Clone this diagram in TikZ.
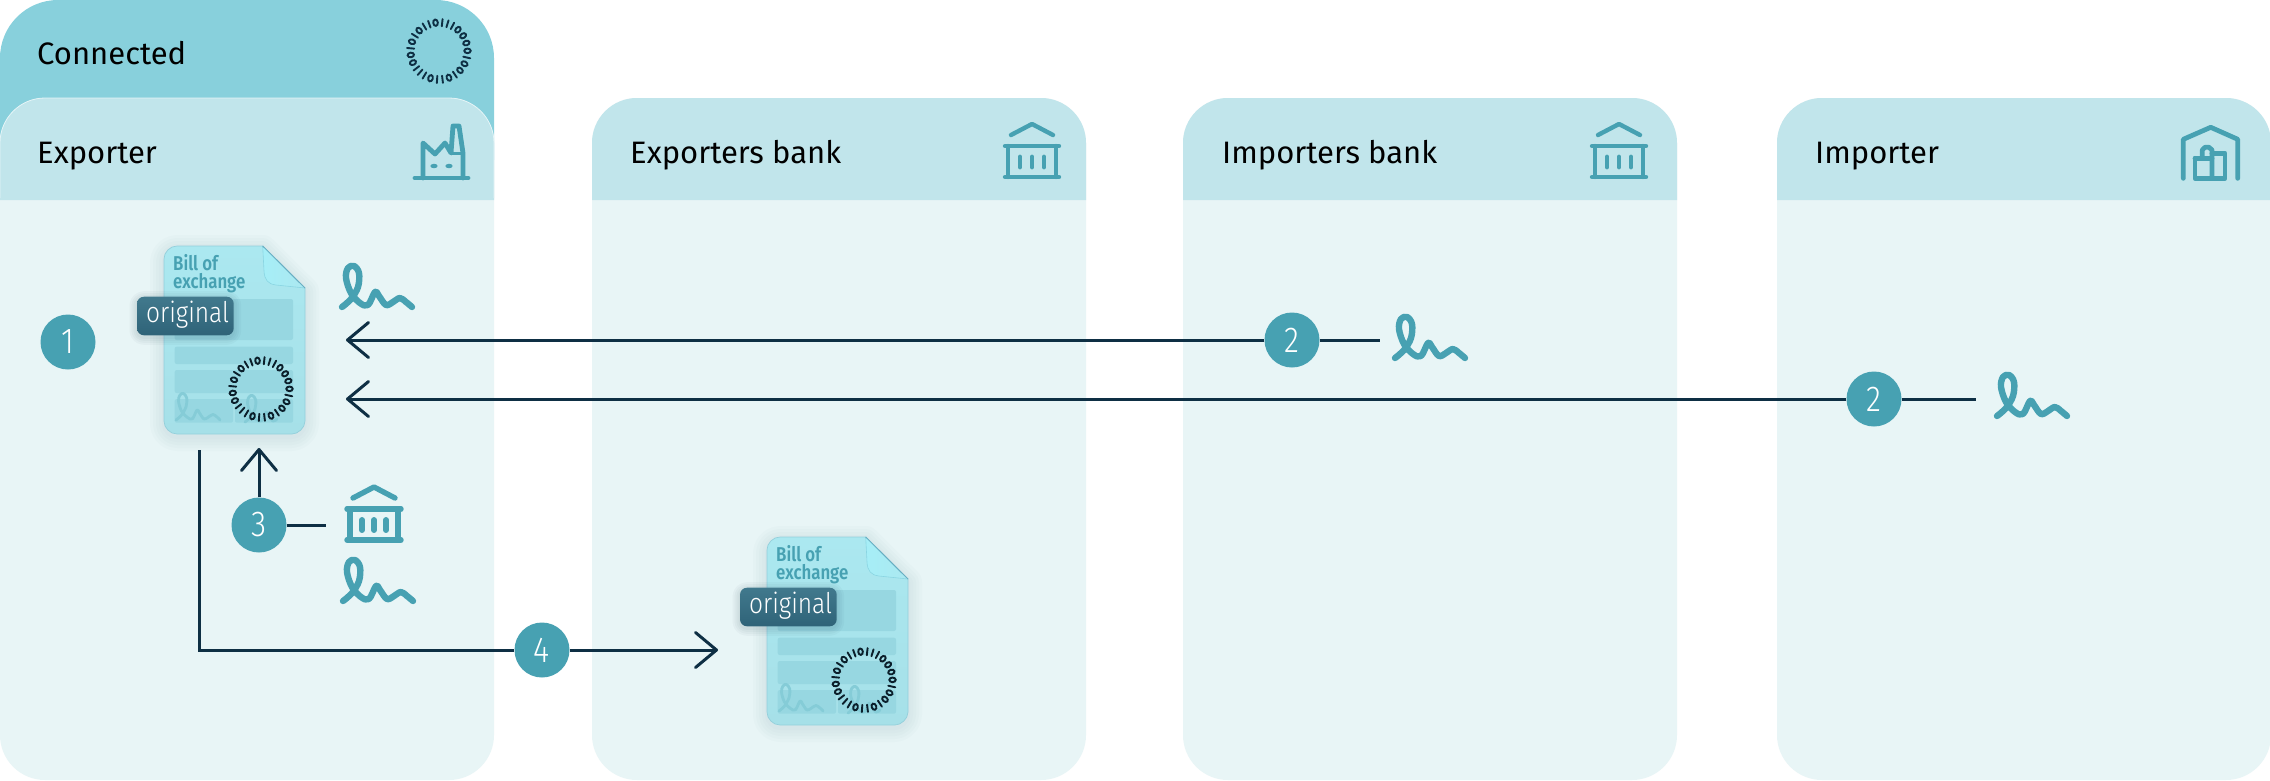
\documentclass[tikz,border=0pt]{standalone}
\usepackage{fontspec}
\setmainfont{Fira Sans}
\newfontfamily\lightface[FakeStretch=.86]{Fira Sans Light}
\newfontfamily\docface[FakeStretch=.84]{Fira Sans SemiBold}
\usetikzlibrary{arrows.meta}
\definecolor{tabcol}{HTML}{88D0DC}
\definecolor{hdrcol}{HTML}{C1E5EB}
\definecolor{bodycol}{HTML}{E8F5F6}
\definecolor{teal}{HTML}{47A1B2}
\definecolor{navy}{HTML}{0E2F44}
\definecolor{hdredge}{HTML}{E4F4F7}
\definecolor{doctop}{HTML}{ABE8F0}
\definecolor{docbot}{HTML}{A6E0E8}
\definecolor{docedge}{HTML}{93CFDB}
\definecolor{rowcol}{HTML}{97D7E1}
\definecolor{fadesig}{HTML}{85CCD7}
\definecolor{foldcol}{HTML}{A6EEF7}
\definecolor{foldedge}{HTML}{8AD5E2}
\definecolor{foldrim}{HTML}{68AEC2}
\definecolor{ringblack}{HTML}{0B1F2B}
\definecolor{origtop}{HTML}{41798D}
\definecolor{origbot}{HTML}{2F6378}
\definecolor{shadowcol}{HTML}{5E8C98}
\tikzset{
  x=1pt,y=-1pt,
  title/.style={anchor=base west,inner sep=0pt,text=black,font=\fontsize{31}{31}\selectfont},
  badge/.style={circle,fill=teal,text=white,minimum size=55pt,inner sep=0pt,font=\lightface\fontsize{36}{36}\selectfont},
  conn/.style={draw=navy,line width=3pt},
  arr/.style={conn,-{Straight Barb[length=21pt,width=35pt,line width=3pt,round]}},
  icon/.style={draw=teal,line width=4.8pt,line join=round,line cap=round},
  signline/.style={draw=teal,line width=6.4pt,line cap=round,line join=round},
  fsign/.style={draw=fadesig,line width=2.8pt,line cap=round,line join=round},
  row/.style={fill=rowcol,rounded corners=2pt},
  doctitle/.style={anchor=base west,inner sep=0pt,text=teal,font=\docface\fontsize{20}{20}\selectfont},
  origtext/.style={anchor=base west,inner sep=0pt,text=white,font=\lightface\fontsize{28.5}{28.5}\selectfont},
}
\newcommand\panelbox[1]{%
  \fill[bodycol,rounded corners=45pt] (#1,98) rectangle ++(494,682);
  \fill[hdrcol] (#1,200) {[rounded corners=45pt] -- (#1,98) -- ++(494,0)} -- ++(0,102) -- cycle;
}
\newcommand\signature[2]{%
  \begin{scope}[shift={(#1,#2)}]
    \draw[signline] plot[smooth,tension=.6] coordinates {(0,0)(9,-8)(16,-20)(17,-34)(12,-41)(6,-39)(4,-29)(9,-14)(18,-4)(26,-2)(33,-15)(37,-11)(44,-2)(51,-5)(58,-9)(64,-5)(70,0)};
  \end{scope}}
\newcommand\bankicon[3]{%
  \begin{scope}[shift={(#1,#2)}]
    \draw[icon,line width=#3] (-21,11) -- (0,0) -- (21,11);
    \draw[icon,line width=#3] (-27,22) -- (27,22);
    \draw[icon,line width=#3] (-27,53) -- (27,53);
    \draw[icon,line width=#3] (-24,22) -- (-24,53);
    \draw[icon,line width=#3] (24,22) -- (24,53);
    \draw[icon,line width=#3*1.1] (-12,33) -- (-12,43);
    \draw[icon,line width=#3*1.1] (0,33) -- (0,43);
    \draw[icon,line width=#3*1.1] (12,33) -- (12,43);
  \end{scope}}
\newcommand\binring[4]{%
  \begin{scope}[shift={(#1,#2)},x=1pt,y=1pt,scale=#3]
    \foreach \ang/\dig in {97/0,83.55/1,72.65/1,61.75/1,48.3/0,32.3/0,16.3/0,0.3/0,-13.15/1,-26.6/0,-42.6/0,-56.05/1,-69.5/0,-82.95/1,-93.85/1,-107.3/0,-120.75/1,-131.65/1,-142.55/1,-156/0,-172/0,-185.45/1,-198.9/0,-212.35/1,-225.8/0,-239.25/1,-250.15/1}{
      \ifnum\dig=0
        \draw[draw=#4,line width=1.9pt,shift={(\ang:28.5)},rotate=\ang] (0,0) ellipse (3.2 and 2.3);
      \else
        \draw[draw=#4,line width=1.9pt,line cap=round,shift={(\ang:28.5)},rotate=\ang] (-3.6,0) -- (3.6,0);
      \fi
    }
  \end{scope}}
\def\docpath{(13,0) -- (98.7,0) -- (141,42) -- (141,175) .. controls (141,182) and (134,188) .. (128,188) -- (13,188) .. controls (6,188) and (0,182) .. (0,175) -- (0,13) .. controls (0,6) and (6,0) .. (13,0) -- cycle}
\newcommand\billdoc[3]{%
  \begin{scope}[shift={(#2,#3)}]
    \foreach \w in {4,10,16,22,28}{
      \draw[draw=shadowcol,opacity=.022,line width=\w pt,line join=round,yshift=-3pt] \docpath;
    }
    \shade[top color=doctop,bottom color=docbot] \docpath;
    \draw[draw=docedge,line width=.7pt] \docpath;
    \fill[row] (10.7,53) rectangle (129,94);
    \fill[row] (10.7,100.7) rectangle (129,118);
    \fill[row] (10.7,124) rectangle (129,147);
    \fill[row] (10.7,153) rectangle (69,176.7);
    \fill[row] (71,153) rectangle (129,176.7);
    \draw[fsign] plot[smooth,tension=.6] coordinates {(12,174)(17.5,169)(22,161)(22.7,152)(19.5,147.5)(16,149)(14.5,155)(17.5,165)(23.5,171.5)(28.5,172.7)(33,164)(35.5,167)(40,173)(44.5,171)(49,168.5)(53,171)(56,174)};
    \draw[fsign] plot[smooth,tension=.6] coordinates {(81,176)(86.5,171)(91,163)(91.7,154)(88.5,149.5)(85,151)(83.5,157)(86.5,167)(92.5,173.5)(97.5,174.7)(102,166)(104.5,169)(109,175)(113,173)};
    \shade[left color=foldcol,right color=doctop] (98.7,0) -- (100,25) .. controls (100.5,34) and (104,38) .. (112,39) -- (141,42) -- cycle;
    \draw[draw=foldedge,line width=.6pt] (98.7,0) -- (100,25) .. controls (100.5,34) and (104,38) .. (112,39) -- (141,42);
    \draw[draw=foldrim,line width=1pt] (98.7,0) -- (141,42);
    \node[doctitle] (#1bill) at (9,24.7) {Bill of};
    \node[doctitle] (#1exch) at (9,42) {exchange};
    \binring{97}{143}{1}{ringblack}
    \foreach \w in {3,7,11,15}{
      \draw[draw=navy,opacity=.03,line width=\w pt,line join=round,rounded corners=7pt] (-27,52.7) rectangle (69.7,91.3);
    }
    \shade[top color=origtop,bottom color=origbot,rounded corners=7pt] (-27,50.7) rectangle (69.7,89.3);
    \node[origtext] (#1orig) at (-18,76.7) {original};
  \end{scope}}
\begin{document}
\begin{tikzpicture}
\useasboundingbox (0,0) rectangle (2270,780);
\fill[white] (0,0) rectangle (2270,780);
% connected tab
\fill[tabcol] (0,160) {[rounded corners=58pt] -- (0,0) -- (494,0)} -- (494,160) -- cycle;
\node[title] (tconn) at (37,64) {Connected};
\binring{439}{51}{1}{navy}
% panels
\panelbox{0}
\draw[draw=hdredge,line width=.8pt] (0,198) {[rounded corners=45pt] -- (0,98) -- (494,98)} -- (494,198);
\panelbox{592}
\panelbox{1183}
\panelbox{1777}
\node[title] (texp) at (37,163) {Exporter};
\node[title] (tebank) at (630,163) {Exporters bank};
\node[title] (tibank) at (1222,163) {Importers bank};
\node[title] (timp) at (1815,163) {Importer};
% factory icon
\draw[icon] (415,178) -- (468,178);
\draw[icon] (423,178) -- (423,143) -- (435,154) -- (445,143) -- (451,153) -- (453,126) -- (459,126) -- (463,153) -- (463,178);
\draw[icon,line width=3pt] (451,153) -- (463,153);
\fill[teal] (434,166) ellipse (3.6 and 2.2);
\fill[teal] (449,166) ellipse (3.6 and 2.2);
% bank icons
\bankicon{1032}{124}{4.4pt}
\bankicon{1619}{124}{4.4pt}
\bankicon{374}{487}{5.4pt}
% warehouse icon
\draw[icon] (2183.3,178.3) -- (2183.3,139.3) -- (2210.7,127.3) -- (2237.7,139.3) -- (2237.7,178.3);
\draw[icon] (2195,158.3) -- (2195,178.3) -- (2225,178.3) -- (2225,153.3) -- (2212,153.3);
\draw[icon] (2195,158.3) -- (2212,158.3);
\draw[icon] (2202.3,158.3) -- (2202.3,150) -- (2205,147.3) -- (2209,147.3) -- (2212,150) -- (2212,178.3);
% signatures
\signature{342}{307}
\signature{1395}{358}
\signature{1997}{416}
\signature{343}{601}
% documents
\billdoc{da}{164}{246}
\billdoc{db}{767}{537}
% badges
\node[badge] (b1) at (68,342) {1};
\node[badge] (b2a) at (1292,340) {2};
\node[badge] (b2b) at (1874,399) {2};
\node[badge] (b3) at (259,525) {3};
\node[badge] (b4) at (542,650) {4};
% connector ends
\coordinate (tipA) at (346,340);
\coordinate (endA) at (1380,340);
\coordinate (tipB) at (346,399);
\coordinate (endB) at (1976,399);
\coordinate (tipC) at (259,448);
\coordinate (endC) at (326,525);
\coordinate (startD) at (199,450);
\coordinate (tipD) at (718,650);
% connectors
\draw[arr] (b2a) -- (tipA);
\draw[conn] (b2a) -- (endA);
\draw[arr] (b2b) -- (tipB);
\draw[conn] (b2b) -- (endB);
\draw[arr] (b3) -- (tipC);
\draw[conn] (b3) -- (endC);
\draw[conn] (startD) |- (b4);
\draw[arr] (b4) -- (tipD);
\end{tikzpicture}
\end{document}
